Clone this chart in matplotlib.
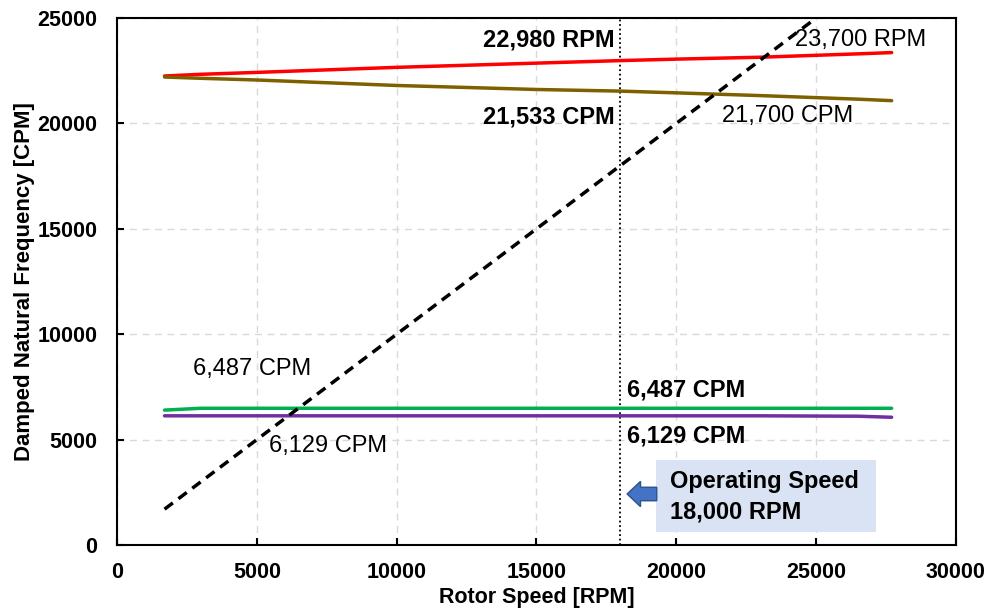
import numpy as np
import matplotlib
matplotlib.use("Agg")
import matplotlib.pyplot as plt
from matplotlib.patches import Rectangle, FancyArrow

plt.rcParams['font.family'] = ['Liberation Sans', 'DejaVu Sans']

# rotor speed [RPM] and damped natural frequencies [CPM]
speed = [1700, 3000, 5000, 10000, 15000, 18000, 20000, 23000, 26500, 27700]
mode_red = [22250, 22330, 22420, 22660, 22860, 22980, 23050, 23140, 23300, 23360]
mode_brown = [22200, 22140, 22060, 21800, 21610, 21533, 21450, 21320, 21150, 21080]
mode_green = [6400, 6487, 6487, 6487, 6487, 6487, 6487, 6487, 6487, 6487]
mode_purple = [6129, 6129, 6129, 6129, 6129, 6129, 6129, 6129, 6110, 6060]

# 1x synchronous excitation line
sync_speed = [1700, 25000]
op_speed = 18000

fig = plt.figure(figsize=(9.89, 6.15), dpi=100)
ax = fig.add_axes([0.1183, 0.1138, 0.8483, 0.8569])

ax.plot(speed, mode_red, color='#ff0000', lw=2.5, solid_capstyle='round', zorder=3)
ax.plot(speed, mode_brown, color='#7f6000', lw=2.5, solid_capstyle='round', zorder=3)
ax.plot(speed, mode_green, color='#00b050', lw=2.5, solid_capstyle='round', zorder=3)
ax.plot(speed, mode_purple, color='#7030a0', lw=2.5, solid_capstyle='round', zorder=3)
ax.plot(sync_speed, sync_speed, color='black', lw=2.5, ls=(0, (3, 2)), zorder=4)
ax.axvline(op_speed, color='black', lw=1.3, ls=(0, (1, 1.5)), zorder=2)

ax.set_xlim(0, 30000)
ax.set_ylim(0, 25000)
ax.set_xticks(np.arange(0, 30001, 5000))
ax.set_yticks(np.arange(0, 25001, 5000))
ax.grid(True, color='#d9d9d9', ls=(0, (5, 4)), lw=1.0)
ax.set_axisbelow(True)
ax.tick_params(direction='in', length=5, width=1.5, labelsize=15.5)
ax.tick_params(axis='x', pad=12)
ax.tick_params(axis='y', pad=14)
for lab in ax.get_xticklabels() + ax.get_yticklabels():
    lab.set_fontweight('bold')
for sp in ax.spines.values():
    sp.set_linewidth(1.5)

ax.set_xlabel('Rotor Speed [RPM]', fontsize=15.5, fontweight='bold', labelpad=3)
ax.set_ylabel('Damped Natural Frequency [CPM]', fontsize=16, fontweight='bold', labelpad=2)

fs = 17
ax.text(17800, 23970, '22,980 RPM', ha='right', va='center', fontsize=fs, fontweight='bold')
ax.text(17800, 20310, '21,533 CPM', ha='right', va='center', fontsize=fs, fontweight='bold')
ax.text(24250, 23970, '23,700 RPM', ha='left', va='center', fontsize=fs)
ax.text(21650, 20360, '21,700 CPM', ha='left', va='center', fontsize=fs)
ax.text(2700, 8340, '6,487 CPM', ha='left', va='center', fontsize=fs)
ax.text(5450, 4700, '6,129 CPM', ha='left', va='center', fontsize=fs)
ax.text(18250, 7340, '6,487 CPM', ha='left', va='center', fontsize=fs, fontweight='bold')
ax.text(18250, 5170, '6,129 CPM', ha='left', va='center', fontsize=fs, fontweight='bold')

ax.add_patch(Rectangle((19270, 620), 7870, 3410, facecolor='#dae3f3', edgecolor='none', zorder=3))
ax.text(19770, 2280, 'Operating Speed\n18,000 RPM', ha='left', va='center', fontsize=fs,
        fontweight='bold', linespacing=1.4, zorder=4)
ax.add_patch(FancyArrow(19300, 2420, -1060, 0, width=640, head_width=1200, head_length=480,
                        length_includes_head=True, facecolor='#4472c4', edgecolor='#2f528f',
                        lw=1, zorder=4))

fig.savefig('out.png', dpi=100)
